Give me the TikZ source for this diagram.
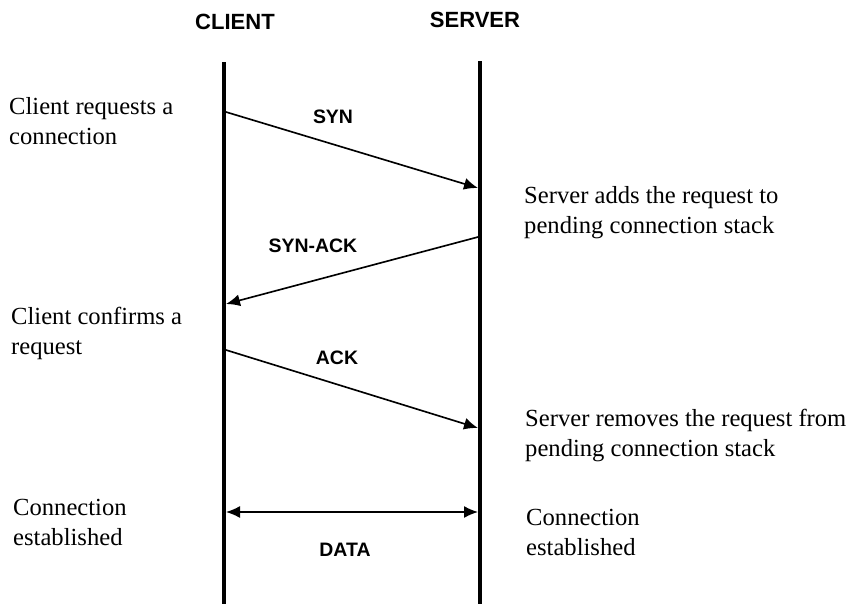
\documentclass[tikz,border=0pt]{standalone}
\usepackage{fontspec}
\setmainfont{Liberation Serif}
\newfontfamily\labelfont{Liberation Sans}
\usetikzlibrary{arrows.meta}

\tikzstyle{lifeline} = [line width=3.4pt]
\tikzstyle{party} = [font=\labelfont\bfseries\fontsize{18.8}{22}\selectfont, inner sep=0pt]
\tikzstyle{msg} = [font=\labelfont\bfseries\fontsize{16.6}{20}\selectfont, inner sep=0pt]
\tikzstyle{note} = [font=\fontsize{21}{25.6}\selectfont, align=left, anchor=north west, inner sep=0pt]
\tikzstyle{arrow} = [line width=1.4pt, -{Latex[length=0.42cm,width=0.36cm]}]
\tikzstyle{dblarrow} = [line width=1.2pt, {Latex[length=0.42cm,width=0.36cm]}-{Latex[length=0.42cm,width=0.36cm]}]

\begin{document}
\begin{tikzpicture}[x=0.03cm, y=-0.03cm]
\useasboundingbox (0,0) rectangle (857,604);

\node (client) [party] at (235,22) {CLIENT};
\node (server) [party] at (475,20) {SERVER};

% lifelines
\coordinate (ctop) at (224,62);
\coordinate (cbot) at (224,604);
\coordinate (stop) at (480,61);
\coordinate (sbot) at (480,604);
\draw [lifeline] (ctop) -- (cbot);
\draw [lifeline] (stop) -- (sbot);

% message end points on the lifelines
\coordinate (c1) at (226,112);
\coordinate (s1) at (478,188);
\coordinate (s2) at (478,237);
\coordinate (c2) at (226,304);
\coordinate (c3) at (226,350);
\coordinate (s3) at (478,428);
\coordinate (c4) at (226,512);
\coordinate (s4) at (478,512);

\draw [arrow] (c1) -- (s1);
\draw [arrow] (s2) -- (c2);
\draw [arrow] (c3) -- (s3);
\draw [dblarrow] (c4) -- (s4);

\node (syn) [msg] at (333,117) {SYN};
\node (synack) [msg] at (313,246) {SYN-ACK};
\node (ack) [msg] at (337,358) {ACK};
\node (data) [msg] at (345,550) {DATA};

% notes beside the lifelines
\node (req) [note] at (9,97) {Client requests a\\connection};
\node (conf) [note] at (11,307) {Client confirms a\\request};
\node (cest) [note] at (13,499) {Connection\\established};
\node (adds) [note] at (524,186) {Server adds the request to\\pending connection stack};
\node (removes) [note] at (525,409) {Server removes the request from\\pending connection stack};
\node (sest) [note] at (526,509) {Connection\\established};

\end{tikzpicture}
\end{document}
